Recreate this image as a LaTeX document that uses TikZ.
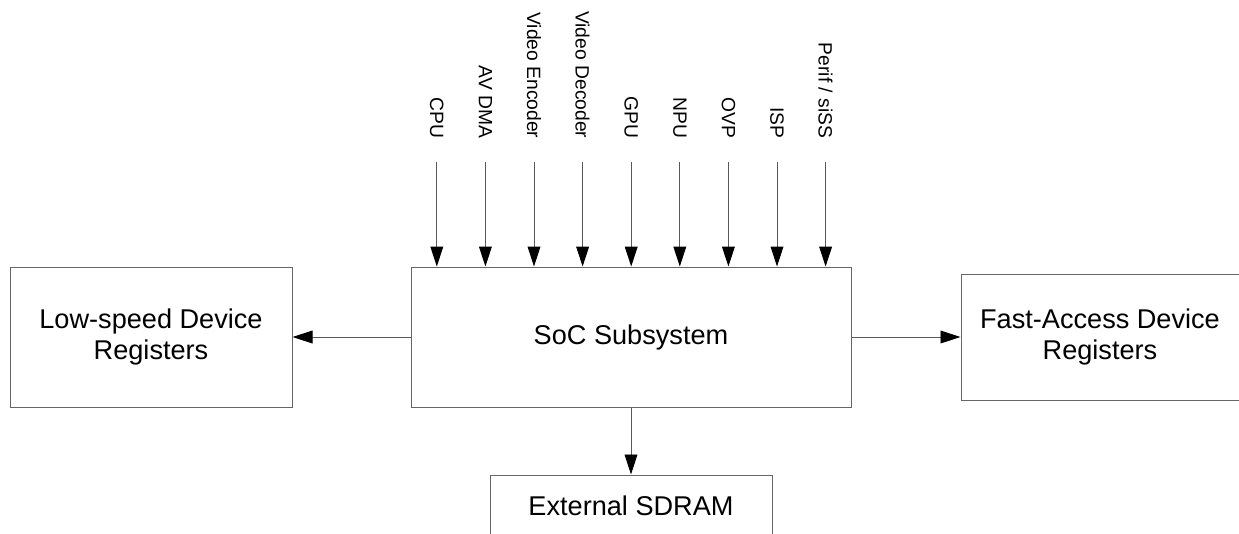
\documentclass[tikz,border=0pt]{standalone}
\usepackage{fontspec}
\setmainfont{Liberation Sans}
\usetikzlibrary{positioning, arrows.meta}
\tikzstyle{block} = [rectangle,
minimum width=7.05cm,
minimum height=3.5cm,
text centered,
align=center,
draw=black!60,
line width=0.7pt,
font=\fontsize{19.3pt}{22.4pt}\selectfont]
\tikzstyle{unit} = [rotate=-90,
anchor=east,
inner sep=0pt,
font=\fontsize{13.7pt}{15pt}\selectfont]
\tikzstyle{link} = [draw=black!65,
line width=0.7pt,
-{Triangle[length=0.5cm, width=0.32cm, color=black]}]

\begin{document}
\begin{tikzpicture}
\useasboundingbox (0,0) rectangle (30.975,-13.325);
\clip (0,0) rectangle (30.975,-13.325);
\node (soc) [block, minimum width=11cm] at (15.775,-8.425) {SoC Subsystem};
\node (low) [block, left=2.95cm of soc] {Low-speed Device\\Registers};
\node (fast) [block, minimum width=6.95cm, minimum height=3.15cm, right=2.725cm of soc] {Fast-Access Device\\Registers};
\node (dram) [block, minimum height=0cm, inner ysep=0pt, text height=1.025cm, text depth=2cm, below=1.675cm of soc] {External SDRAM}; % cut off by the page

\foreach \name [count=\i from 0] in {CPU, AV DMA, Video Encoder, Video Decoder, GPU, NPU, OVP, ISP, Perif / siSS} {
  \node (unit\i) [unit] at ([xshift=0.6575cm+\i*1.215cm, yshift=3.2cm]soc.north west) {\name};
  \coordinate (src\i) at ([yshift=-0.575cm]unit\i.east);
  \draw [link] (src\i) -- (src\i |- soc.north);
}

\draw [link] (soc) edge (low);
\draw [link] (soc) edge (fast);
\draw [link] (soc) edge (dram);
\end{tikzpicture}
\end{document}
